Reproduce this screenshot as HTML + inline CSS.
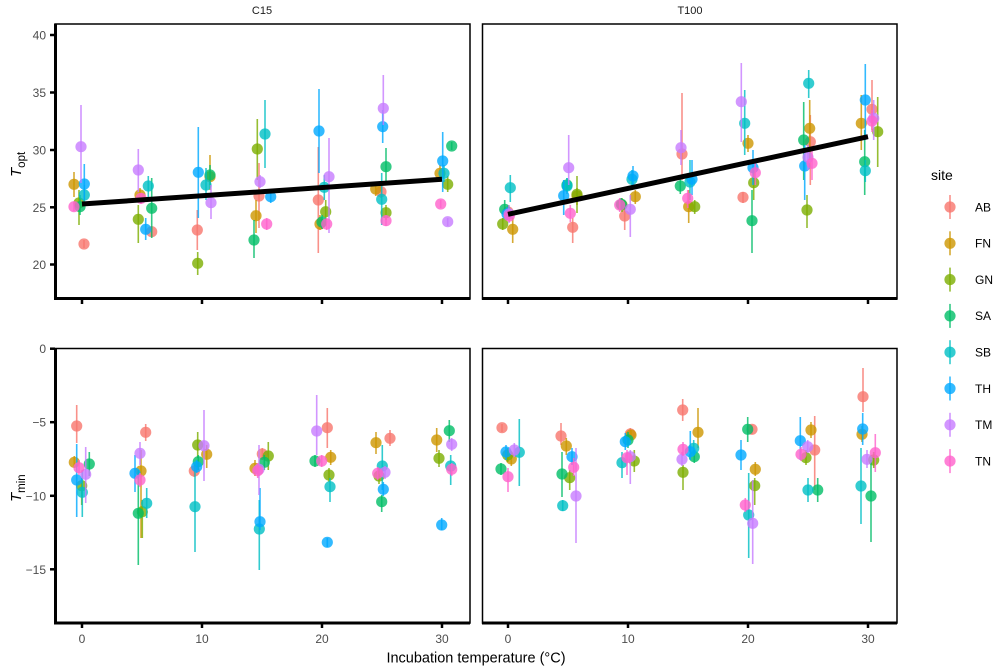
<!DOCTYPE html>
<html><head><meta charset="utf-8"><style>
html,body{margin:0;padding:0;background:#fff}
svg{display:block}
text{font-family:"Liberation Sans",Arial,sans-serif}
.AB{fill:#F8766D;stroke:#F8766D}.FN{fill:#CD9600;stroke:#CD9600}.GN{fill:#7CAE00;stroke:#7CAE00}.SA{fill:#00BE67;stroke:#00BE67}
.SB{fill:#00BFC4;stroke:#00BFC4}.TH{fill:#00A9FF;stroke:#00A9FF}.TM{fill:#C77CFF;stroke:#C77CFF}.TN{fill:#FF61CC;stroke:#FF61CC}
g.d line{stroke-width:1.6;opacity:0.8}
g.d circle{stroke:none;opacity:0.8}
.tk{font-size:12px;fill:#4d4d4d}
</style></head><body>
<svg width="1000" height="667" viewBox="0 0 1000 667" xmlns="http://www.w3.org/2000/svg">
<rect width="1000" height="667" fill="#fff"/>
<text x="262" y="14" font-size="11" text-anchor="middle" fill="#1a1a1a">C15</text>
<text x="690" y="14" font-size="11" text-anchor="middle" fill="#1a1a1a">T100</text>

<g id="pts"></g>
<!-- DATA -->
<g class="d">
<!-- AB -->
<g class="AB">
<line x1="84" x2="84" y1="240" y2="248"/><circle cx="84" cy="244" r="5.6"/>
<line x1="151.7" x2="151.7" y1="226" y2="236"/><circle cx="151.7" cy="231.7" r="5.6"/>
<line x1="197.3" x2="197.3" y1="210" y2="250"/><circle cx="197.3" cy="230" r="5.6"/>
<line x1="259" x2="259" y1="163" y2="228"/><circle cx="259" cy="196" r="5.6"/>
<line x1="318.3" x2="318.3" y1="147" y2="253"/><circle cx="318.3" cy="200" r="5.6"/>
<line x1="381" x2="381" y1="185" y2="198"/><circle cx="381" cy="191.7" r="5.6"/>
<line x1="508" x2="508" y1="205" y2="219"/><circle cx="508" cy="212" r="5.6"/>
<line x1="572.7" x2="572.7" y1="218" y2="243"/><circle cx="572.7" cy="227.3" r="5.6"/>
<line x1="624.7" x2="624.7" y1="208" y2="230"/><circle cx="624.7" cy="216" r="5.6"/>
<line x1="682" x2="682" y1="93" y2="180"/><circle cx="682" cy="154" r="5.6"/>
<line x1="743" x2="743" y1="192" y2="203"/><circle cx="743" cy="197.3" r="5.6"/>
<line x1="810.3" x2="810.3" y1="115" y2="185"/><circle cx="810.3" cy="141.7" r="5.6"/>
<line x1="872" x2="872" y1="80" y2="130"/><circle cx="872" cy="109.3" r="5.6"/>
<line x1="76.7" x2="76.7" y1="405" y2="443"/><circle cx="76.7" cy="426" r="5.6"/>
<line x1="145.7" x2="145.7" y1="424" y2="441"/><circle cx="145.7" cy="432.3" r="5.6"/>
<line x1="194.3" x2="194.3" y1="465" y2="477"/><circle cx="194.3" cy="471" r="5.6"/>
<line x1="262.3" x2="262.3" y1="448" y2="460"/><circle cx="262.3" cy="454" r="5.6"/>
<line x1="327.3" x2="327.3" y1="408" y2="448"/><circle cx="327.3" cy="427.7" r="5.6"/>
<line x1="390" x2="390" y1="430" y2="446"/><circle cx="390" cy="438.3" r="5.6"/>
<line x1="502" x2="502" y1="424" y2="432"/><circle cx="502" cy="427.7" r="5.6"/>
<line x1="561" x2="561" y1="423" y2="445"/><circle cx="561" cy="436" r="5.6"/>
<line x1="630.3" x2="630.3" y1="428" y2="440"/><circle cx="630.3" cy="434" r="5.6"/>
<line x1="682.7" x2="682.7" y1="399" y2="421"/><circle cx="682.7" cy="410" r="5.6"/>
<line x1="752" x2="752" y1="425" y2="434"/><circle cx="752" cy="429.3" r="5.6"/>
<line x1="814.7" x2="814.7" y1="416" y2="490"/><circle cx="814.7" cy="450" r="5.6"/>
<line x1="863" x2="863" y1="368" y2="412"/><circle cx="863" cy="396.7" r="5.6"/>
</g>
<!-- FN -->
<g class="FN">
<line x1="74" x2="74" y1="172" y2="197"/><circle cx="74" cy="184.3" r="5.6"/>
<line x1="140" x2="140" y1="188" y2="202"/><circle cx="140" cy="195" r="5.6"/>
<line x1="210" x2="210" y1="155" y2="190"/><circle cx="210" cy="176.7" r="5.6"/>
<line x1="256" x2="256" y1="200" y2="233"/><circle cx="256" cy="215.7" r="5.6"/>
<line x1="320" x2="320" y1="215" y2="230"/><circle cx="320" cy="224" r="5.6"/>
<line x1="375.7" x2="375.7" y1="182" y2="196"/><circle cx="375.7" cy="189" r="5.6"/>
<line x1="440" x2="440" y1="165" y2="182"/><circle cx="440" cy="173.3" r="5.6"/>
<line x1="512.7" x2="512.7" y1="218" y2="243"/><circle cx="512.7" cy="229.3" r="5.6"/>
<line x1="577" x2="577" y1="188" y2="205"/><circle cx="577" cy="196" r="5.6"/>
<line x1="635.3" x2="635.3" y1="190" y2="204"/><circle cx="635.3" cy="196.7" r="5.6"/>
<line x1="688.7" x2="688.7" y1="190" y2="223"/><circle cx="688.7" cy="206.7" r="5.6"/>
<line x1="748" x2="748" y1="135" y2="152"/><circle cx="748" cy="143.3" r="5.6"/>
<line x1="809.7" x2="809.7" y1="100" y2="160"/><circle cx="809.7" cy="128.3" r="5.6"/>
<line x1="861.3" x2="861.3" y1="95" y2="150"/><circle cx="861.3" cy="123.3" r="5.6"/>
<line x1="74.3" x2="74.3" y1="456" y2="468"/><circle cx="74.3" cy="462.3" r="5.6"/>
<line x1="141" x2="141" y1="450" y2="538"/><circle cx="141" cy="471" r="5.6"/>
<line x1="206.7" x2="206.7" y1="445" y2="468"/><circle cx="206.7" cy="454.3" r="5.6"/>
<line x1="255" x2="255" y1="460" y2="476"/><circle cx="255" cy="468.3" r="5.6"/>
<line x1="330.7" x2="330.7" y1="450" y2="465"/><circle cx="330.7" cy="457.3" r="5.6"/>
<line x1="376" x2="376" y1="432" y2="454"/><circle cx="376" cy="442.7" r="5.6"/>
<line x1="436.7" x2="436.7" y1="428" y2="452"/><circle cx="436.7" cy="440" r="5.6"/>
<line x1="511.3" x2="511.3" y1="452" y2="466"/><circle cx="511.3" cy="459" r="5.6"/>
<line x1="566.3" x2="566.3" y1="438" y2="455"/><circle cx="566.3" cy="446" r="5.6"/>
<line x1="631" x2="631" y1="430" y2="440"/><circle cx="631" cy="435" r="5.6"/>
<line x1="698" x2="698" y1="408" y2="448"/><circle cx="698" cy="432.3" r="5.6"/>
<line x1="755.3" x2="755.3" y1="462" y2="476"/><circle cx="755.3" cy="469.3" r="5.6"/>
<line x1="811" x2="811" y1="422" y2="438"/><circle cx="811" cy="430" r="5.6"/>
<line x1="862" x2="862" y1="426" y2="442"/><circle cx="862" cy="434.3" r="5.6"/>
</g>
<!-- GN -->
<g class="GN">
<line x1="79" x2="79" y1="190" y2="225"/><circle cx="79" cy="203" r="5.6"/>
<line x1="138.3" x2="138.3" y1="205" y2="243"/><circle cx="138.3" cy="219.3" r="5.6"/>
<line x1="197.7" x2="197.7" y1="252" y2="275"/><circle cx="197.7" cy="263.3" r="5.6"/>
<line x1="257.3" x2="257.3" y1="119" y2="180"/><circle cx="257.3" cy="149" r="5.6"/>
<line x1="325.7" x2="325.7" y1="200" y2="225"/><circle cx="325.7" cy="211.7" r="5.6"/>
<line x1="386" x2="386" y1="205" y2="220"/><circle cx="386" cy="212.7" r="5.6"/>
<line x1="447.7" x2="447.7" y1="176" y2="192"/><circle cx="447.7" cy="184.3" r="5.6"/>
<line x1="502.7" x2="502.7" y1="218" y2="230"/><circle cx="502.7" cy="224" r="5.6"/>
<line x1="577" x2="577" y1="176" y2="213"/><circle cx="577" cy="194.3" r="5.6"/>
<line x1="622" x2="622" y1="198" y2="212"/><circle cx="622" cy="205" r="5.6"/>
<line x1="694.7" x2="694.7" y1="200" y2="214"/><circle cx="694.7" cy="206.7" r="5.6"/>
<line x1="753.7" x2="753.7" y1="170" y2="200"/><circle cx="753.7" cy="182.7" r="5.6"/>
<line x1="807" x2="807" y1="195" y2="228"/><circle cx="807" cy="210" r="5.6"/>
<line x1="877.7" x2="877.7" y1="97" y2="167"/><circle cx="877.7" cy="131.7" r="5.6"/>
<line x1="81.7" x2="81.7" y1="478" y2="505"/><circle cx="81.7" cy="485.7" r="5.6"/>
<line x1="142.3" x2="142.3" y1="500" y2="538"/><circle cx="142.3" cy="511.7" r="5.6"/>
<line x1="197.7" x2="197.7" y1="432" y2="458"/><circle cx="197.7" cy="445" r="5.6"/>
<line x1="268.3" x2="268.3" y1="442" y2="470"/><circle cx="268.3" cy="456" r="5.6"/>
<line x1="329" x2="329" y1="468" y2="482"/><circle cx="329" cy="475" r="5.6"/>
<line x1="379" x2="379" y1="468" y2="484"/><circle cx="379" cy="476" r="5.6"/>
<line x1="439" x2="439" y1="450" y2="467"/><circle cx="439" cy="458.3" r="5.6"/>
<line x1="507.7" x2="507.7" y1="448" y2="462"/><circle cx="507.7" cy="455" r="5.6"/>
<line x1="569.7" x2="569.7" y1="470" y2="490"/><circle cx="569.7" cy="477.7" r="5.6"/>
<line x1="634.3" x2="634.3" y1="450" y2="472"/><circle cx="634.3" cy="461" r="5.6"/>
<line x1="683" x2="683" y1="465" y2="490"/><circle cx="683" cy="472.3" r="5.6"/>
<line x1="754.7" x2="754.7" y1="478" y2="505"/><circle cx="754.7" cy="485.7" r="5.6"/>
<line x1="806" x2="806" y1="450" y2="465"/><circle cx="806" cy="457.7" r="5.6"/>
<line x1="873.7" x2="873.7" y1="452" y2="468"/><circle cx="873.7" cy="460" r="5.6"/>
</g>
<!-- SA -->
<g class="SA">
<line x1="80" x2="80" y1="195" y2="215"/><circle cx="80" cy="206.7" r="5.6"/>
<line x1="151.7" x2="151.7" y1="178" y2="238"/><circle cx="151.7" cy="208.3" r="5.6"/>
<line x1="210" x2="210" y1="165" y2="185"/><circle cx="210" cy="175" r="5.6"/>
<line x1="254" x2="254" y1="220" y2="258"/><circle cx="254" cy="240" r="5.6"/>
<line x1="322" x2="322" y1="215" y2="229"/><circle cx="322" cy="222" r="5.6"/>
<line x1="386" x2="386" y1="148" y2="185"/><circle cx="386" cy="166.7" r="5.6"/>
<line x1="451.7" x2="451.7" y1="142" y2="150"/><circle cx="451.7" cy="146" r="5.6"/>
<line x1="504.7" x2="504.7" y1="200" y2="218"/><circle cx="504.7" cy="209.3" r="5.6"/>
<line x1="567" x2="567" y1="178" y2="192"/><circle cx="567" cy="185" r="5.6"/>
<line x1="621.3" x2="621.3" y1="198" y2="210"/><circle cx="621.3" cy="204.3" r="5.6"/>
<line x1="680.3" x2="680.3" y1="178" y2="194"/><circle cx="680.3" cy="186" r="5.6"/>
<line x1="752" x2="752" y1="190" y2="253"/><circle cx="752" cy="220.7" r="5.6"/>
<line x1="803.7" x2="803.7" y1="102" y2="180"/><circle cx="803.7" cy="140" r="5.6"/>
<line x1="864.7" x2="864.7" y1="130" y2="195"/><circle cx="864.7" cy="161.7" r="5.6"/>
<line x1="89.3" x2="89.3" y1="452" y2="476"/><circle cx="89.3" cy="464" r="5.6"/>
<line x1="138.3" x2="138.3" y1="470" y2="565"/><circle cx="138.3" cy="513.3" r="5.6"/>
<line x1="198.3" x2="198.3" y1="455" y2="470"/><circle cx="198.3" cy="461.7" r="5.6"/>
<line x1="264.3" x2="264.3" y1="455" y2="470"/><circle cx="264.3" cy="462.3" r="5.6"/>
<line x1="315" x2="315" y1="455" y2="467"/><circle cx="315" cy="461" r="5.6"/>
<line x1="381.7" x2="381.7" y1="495" y2="512"/><circle cx="381.7" cy="501.7" r="5.6"/>
<line x1="449.3" x2="449.3" y1="420" y2="442"/><circle cx="449.3" cy="430.7" r="5.6"/>
<line x1="501" x2="501" y1="463" y2="475"/><circle cx="501" cy="469" r="5.6"/>
<line x1="562" x2="562" y1="452" y2="497"/><circle cx="562" cy="474" r="5.6"/>
<line x1="628" x2="628" y1="432" y2="448"/><circle cx="628" cy="440" r="5.6"/>
<line x1="694.3" x2="694.3" y1="450" y2="463"/><circle cx="694.3" cy="456.7" r="5.6"/>
<line x1="747.7" x2="747.7" y1="417" y2="442"/><circle cx="747.7" cy="429.3" r="5.6"/>
<line x1="817.7" x2="817.7" y1="478" y2="502"/><circle cx="817.7" cy="490" r="5.6"/>
<line x1="871" x2="871" y1="460" y2="542"/><circle cx="871" cy="496" r="5.6"/>
</g>
<!-- SB -->
<g class="SB">
<line x1="84.3" x2="84.3" y1="185" y2="205"/><circle cx="84.3" cy="195" r="5.6"/>
<line x1="148.3" x2="148.3" y1="176" y2="200"/><circle cx="148.3" cy="186" r="5.6"/>
<line x1="206" x2="206" y1="168" y2="200"/><circle cx="206" cy="185" r="5.6"/>
<line x1="265" x2="265" y1="100" y2="168"/><circle cx="265" cy="134" r="5.6"/>
<line x1="324.3" x2="324.3" y1="175" y2="200"/><circle cx="324.3" cy="187.3" r="5.6"/>
<line x1="381.7" x2="381.7" y1="173" y2="225"/><circle cx="381.7" cy="199.3" r="5.6"/>
<line x1="444" x2="444" y1="165" y2="182"/><circle cx="444" cy="173.3" r="5.6"/>
<line x1="510.3" x2="510.3" y1="175" y2="202"/><circle cx="510.3" cy="187.7" r="5.6"/>
<line x1="567" x2="567" y1="178" y2="194"/><circle cx="567" cy="186" r="5.6"/>
<line x1="632" x2="632" y1="170" y2="190"/><circle cx="632" cy="179.3" r="5.6"/>
<line x1="690" x2="690" y1="160" y2="200"/><circle cx="690" cy="182" r="5.6"/>
<line x1="744.7" x2="744.7" y1="90" y2="155"/><circle cx="744.7" cy="123.3" r="5.6"/>
<line x1="808.7" x2="808.7" y1="70" y2="98"/><circle cx="808.7" cy="83.3" r="5.6"/>
<line x1="865.3" x2="865.3" y1="160" y2="182"/><circle cx="865.3" cy="170.7" r="5.6"/>
<line x1="82.3" x2="82.3" y1="470" y2="517"/><circle cx="82.3" cy="492.3" r="5.6"/>
<line x1="146.7" x2="146.7" y1="488" y2="518"/><circle cx="146.7" cy="503.3" r="5.6"/>
<line x1="195" x2="195" y1="465" y2="552"/><circle cx="195" cy="506.7" r="5.6"/>
<line x1="259.3" x2="259.3" y1="500" y2="570"/><circle cx="259.3" cy="529" r="5.6"/>
<line x1="330" x2="330" y1="478" y2="502"/><circle cx="330" cy="486.7" r="5.6"/>
<line x1="382.3" x2="382.3" y1="445" y2="490"/><circle cx="382.3" cy="466" r="5.6"/>
<line x1="450.7" x2="450.7" y1="455" y2="485"/><circle cx="450.7" cy="466" r="5.6"/>
<line x1="519.3" x2="519.3" y1="419" y2="486"/><circle cx="519.3" cy="452.3" r="5.6"/>
<line x1="562.7" x2="562.7" y1="500" y2="511"/><circle cx="562.7" cy="505.7" r="5.6"/>
<line x1="622" x2="622" y1="452" y2="478"/><circle cx="622" cy="462.7" r="5.6"/>
<line x1="693.7" x2="693.7" y1="440" y2="456"/><circle cx="693.7" cy="448.3" r="5.6"/>
<line x1="748.7" x2="748.7" y1="473" y2="558"/><circle cx="748.7" cy="515" r="5.6"/>
<line x1="808" x2="808" y1="478" y2="502"/><circle cx="808" cy="490" r="5.6"/>
<line x1="861" x2="861" y1="448" y2="524"/><circle cx="861" cy="486" r="5.6"/>
</g>
<!-- TH -->
<g class="TH">
<line x1="84.3" x2="84.3" y1="164" y2="200"/><circle cx="84.3" cy="184" r="5.6"/>
<line x1="145.7" x2="145.7" y1="218" y2="240"/><circle cx="145.7" cy="229.3" r="5.6"/>
<line x1="198.3" x2="198.3" y1="127" y2="218"/><circle cx="198.3" cy="172.3" r="5.6"/>
<line x1="270.7" x2="270.7" y1="190" y2="203"/><circle cx="270.7" cy="196.7" r="5.6"/>
<line x1="319" x2="319" y1="89" y2="173"/><circle cx="319" cy="131" r="5.6"/>
<line x1="382.7" x2="382.7" y1="110" y2="143"/><circle cx="382.7" cy="126.7" r="5.6"/>
<line x1="442.7" x2="442.7" y1="132" y2="192"/><circle cx="442.7" cy="161" r="5.6"/>
<line x1="507" x2="507" y1="207" y2="220"/><circle cx="507" cy="214" r="5.6"/>
<line x1="563.7" x2="563.7" y1="180" y2="215"/><circle cx="563.7" cy="195.7" r="5.6"/>
<line x1="633" x2="633" y1="166" y2="188"/><circle cx="633" cy="176" r="5.6"/>
<line x1="692" x2="692" y1="160" y2="195"/><circle cx="692" cy="179.3" r="5.6"/>
<line x1="753" x2="753" y1="150" y2="185"/><circle cx="753" cy="167.7" r="5.6"/>
<line x1="804.7" x2="804.7" y1="145" y2="200"/><circle cx="804.7" cy="166" r="5.6"/>
<line x1="865.3" x2="865.3" y1="64" y2="140"/><circle cx="865.3" cy="100" r="5.6"/>
<line x1="76.7" x2="76.7" y1="444" y2="517"/><circle cx="76.7" cy="480" r="5.6"/>
<line x1="135" x2="135" y1="455" y2="492"/><circle cx="135" cy="473.3" r="5.6"/>
<line x1="196.7" x2="196.7" y1="460" y2="473"/><circle cx="196.7" cy="466.7" r="5.6"/>
<line x1="260" x2="260" y1="488" y2="530"/><circle cx="260" cy="521.7" r="5.6"/>
<line x1="327.3" x2="327.3" y1="538" y2="547"/><circle cx="327.3" cy="542.3" r="5.6"/>
<line x1="383.3" x2="383.3" y1="482" y2="496"/><circle cx="383.3" cy="489.3" r="5.6"/>
<line x1="441.7" x2="441.7" y1="518" y2="530"/><circle cx="441.7" cy="525" r="5.6"/>
<line x1="506" x2="506" y1="445" y2="460"/><circle cx="506" cy="452" r="5.6"/>
<line x1="572" x2="572" y1="448" y2="465"/><circle cx="572" cy="456.7" r="5.6"/>
<line x1="625.3" x2="625.3" y1="433" y2="450"/><circle cx="625.3" cy="441.7" r="5.6"/>
<line x1="690.3" x2="690.3" y1="431" y2="460"/><circle cx="690.3" cy="451.7" r="5.6"/>
<line x1="741" x2="741" y1="440" y2="470"/><circle cx="741" cy="455" r="5.6"/>
<line x1="800.3" x2="800.3" y1="417" y2="460"/><circle cx="800.3" cy="440.7" r="5.6"/>
<line x1="862.7" x2="862.7" y1="413" y2="445"/><circle cx="862.7" cy="429" r="5.6"/>
</g>
<!-- TM -->
<g class="TM">
<line x1="81" x2="81" y1="105" y2="183"/><circle cx="81" cy="146.7" r="5.6"/>
<line x1="138.3" x2="138.3" y1="149" y2="192"/><circle cx="138.3" cy="170" r="5.6"/>
<line x1="211" x2="211" y1="185" y2="219"/><circle cx="211" cy="202.7" r="5.6"/>
<line x1="260" x2="260" y1="175" y2="188"/><circle cx="260" cy="181.7" r="5.6"/>
<line x1="329" x2="329" y1="138" y2="233"/><circle cx="329" cy="176.7" r="5.6"/>
<line x1="383.3" x2="383.3" y1="75" y2="125"/><circle cx="383.3" cy="108.3" r="5.6"/>
<line x1="447.7" x2="447.7" y1="218" y2="226"/><circle cx="447.7" cy="221.7" r="5.6"/>
<line x1="509" x2="509" y1="205" y2="223"/><circle cx="509" cy="214" r="5.6"/>
<line x1="568.7" x2="568.7" y1="135" y2="185"/><circle cx="568.7" cy="167.7" r="5.6"/>
<line x1="630.3" x2="630.3" y1="195" y2="237"/><circle cx="630.3" cy="209.3" r="5.6"/>
<line x1="681" x2="681" y1="130" y2="165"/><circle cx="681" cy="147.7" r="5.6"/>
<line x1="741.3" x2="741.3" y1="63" y2="142"/><circle cx="741.3" cy="101.7" r="5.6"/>
<line x1="808" x2="808" y1="145" y2="170"/><circle cx="808" cy="157.3" r="5.6"/>
<line x1="873.7" x2="873.7" y1="100" y2="140"/><circle cx="873.7" cy="118.3" r="5.6"/>
<line x1="85.7" x2="85.7" y1="447" y2="503"/><circle cx="85.7" cy="474.3" r="5.6"/>
<line x1="140" x2="140" y1="442" y2="465"/><circle cx="140" cy="453.3" r="5.6"/>
<line x1="204" x2="204" y1="410" y2="481"/><circle cx="204" cy="445.7" r="5.6"/>
<line x1="259" x2="259" y1="445" y2="495"/><circle cx="259" cy="469.3" r="5.6"/>
<line x1="316.7" x2="316.7" y1="395" y2="455"/><circle cx="316.7" cy="431" r="5.6"/>
<line x1="385" x2="385" y1="466" y2="479"/><circle cx="385" cy="472.3" r="5.6"/>
<line x1="451.7" x2="451.7" y1="438" y2="451"/><circle cx="451.7" cy="444.3" r="5.6"/>
<line x1="514.3" x2="514.3" y1="443" y2="457"/><circle cx="514.3" cy="450" r="5.6"/>
<line x1="576" x2="576" y1="448" y2="543"/><circle cx="576" cy="496" r="5.6"/>
<line x1="630.3" x2="630.3" y1="450" y2="484"/><circle cx="630.3" cy="456.7" r="5.6"/>
<line x1="682" x2="682" y1="452" y2="466"/><circle cx="682" cy="459.3" r="5.6"/>
<line x1="752.7" x2="752.7" y1="480" y2="564"/><circle cx="752.7" cy="523.3" r="5.6"/>
<line x1="807.7" x2="807.7" y1="440" y2="453"/><circle cx="807.7" cy="446.7" r="5.6"/>
<line x1="867" x2="867" y1="450" y2="468"/><circle cx="867" cy="459.3" r="5.6"/>
</g>
<!-- TN -->
<g class="TN">
<line x1="74" x2="74" y1="202" y2="211"/><circle cx="74" cy="206.7" r="5.6"/>
<line x1="141" x2="141" y1="193" y2="204"/><circle cx="141" cy="198.3" r="5.6"/>
<line x1="266.7" x2="266.7" y1="218" y2="230"/><circle cx="266.7" cy="224" r="5.6"/>
<line x1="326.7" x2="326.7" y1="218" y2="230"/><circle cx="326.7" cy="224" r="5.6"/>
<line x1="386" x2="386" y1="215" y2="226"/><circle cx="386" cy="220.7" r="5.6"/>
<line x1="440.7" x2="440.7" y1="200" y2="208"/><circle cx="440.7" cy="204" r="5.6"/>
<line x1="509.3" x2="509.3" y1="210" y2="222"/><circle cx="509.3" cy="216" r="5.6"/>
<line x1="570.3" x2="570.3" y1="205" y2="222"/><circle cx="570.3" cy="213.3" r="5.6"/>
<line x1="619.7" x2="619.7" y1="198" y2="212"/><circle cx="619.7" cy="205" r="5.6"/>
<line x1="687.7" x2="687.7" y1="190" y2="208"/><circle cx="687.7" cy="198.3" r="5.6"/>
<line x1="755.3" x2="755.3" y1="160" y2="185"/><circle cx="755.3" cy="172.7" r="5.6"/>
<line x1="812" x2="812" y1="150" y2="180"/><circle cx="812" cy="163.3" r="5.6"/>
<line x1="872" x2="872" y1="110" y2="132"/><circle cx="872" cy="121" r="5.6"/>
<line x1="79" x2="79" y1="460" y2="475"/><circle cx="79" cy="467.7" r="5.6"/>
<line x1="140" x2="140" y1="473" y2="487"/><circle cx="140" cy="480" r="5.6"/>
<line x1="257.7" x2="257.7" y1="463" y2="478"/><circle cx="257.7" cy="470.7" r="5.6"/>
<line x1="321.7" x2="321.7" y1="455" y2="467"/><circle cx="321.7" cy="461" r="5.6"/>
<line x1="377.7" x2="377.7" y1="467" y2="480"/><circle cx="377.7" cy="473.3" r="5.6"/>
<line x1="451.7" x2="451.7" y1="463" y2="476"/><circle cx="451.7" cy="469.3" r="5.6"/>
<line x1="508" x2="508" y1="468" y2="492"/><circle cx="508" cy="476.7" r="5.6"/>
<line x1="573.7" x2="573.7" y1="458" y2="476"/><circle cx="573.7" cy="467.3" r="5.6"/>
<line x1="627" x2="627" y1="450" y2="475"/><circle cx="627" cy="457.7" r="5.6"/>
<line x1="683" x2="683" y1="442" y2="456"/><circle cx="683" cy="449.3" r="5.6"/>
<line x1="745.3" x2="745.3" y1="498" y2="512"/><circle cx="745.3" cy="505" r="5.6"/>
<line x1="801" x2="801" y1="447" y2="461"/><circle cx="801" cy="454.3" r="5.6"/>
<line x1="875.3" x2="875.3" y1="434" y2="472"/><circle cx="875.3" cy="452.7" r="5.6"/>
</g>
</g>

<!-- regression lines -->
<line x1="82" y1="204" x2="442" y2="179.3" stroke="#000" stroke-width="5"/>
<line x1="508" y1="214.3" x2="868" y2="136.7" stroke="#000" stroke-width="5"/>

<!-- panel frames -->
<g fill="none" stroke="#000">
<rect x="55" y="24" width="415" height="275" stroke-width="1.5"/>
<rect x="482.5" y="24" width="414.5" height="275" stroke-width="1.5"/>
<rect x="55" y="348.5" width="415" height="274.5" stroke-width="1.5"/>
<rect x="482.5" y="348.5" width="414.5" height="274.5" stroke-width="1.5"/>
<!-- thick axes -->
<line x1="55.5" y1="24" x2="55.5" y2="300" stroke-width="3"/>
<line x1="54" y1="298.5" x2="470" y2="298.5" stroke-width="3"/>
<line x1="482" y1="298.5" x2="897" y2="298.5" stroke-width="3"/>
<line x1="55.5" y1="348" x2="55.5" y2="624.5" stroke-width="3"/>
<line x1="54" y1="623" x2="470" y2="623" stroke-width="3"/>
<line x1="482" y1="623" x2="897" y2="623" stroke-width="3"/>
</g>
<!-- y ticks -->
<g stroke="#000" stroke-width="2.5">
<line x1="50" x2="55" y1="35" y2="35"/><line x1="50" x2="55" y1="92.5" y2="92.5"/>
<line x1="50" x2="55" y1="150" y2="150"/><line x1="50" x2="55" y1="207.3" y2="207.3"/>
<line x1="50" x2="55" y1="264.5" y2="264.5"/>
<line x1="50" x2="55" y1="348.7" y2="348.7"/><line x1="50" x2="55" y1="422.2" y2="422.2"/>
<line x1="50" x2="55" y1="495.8" y2="495.8"/><line x1="50" x2="55" y1="569.3" y2="569.3"/>
<!-- x ticks -->
<line x1="82" x2="82" y1="299" y2="304"/><line x1="202" x2="202" y1="299" y2="304"/>
<line x1="322" x2="322" y1="299" y2="304"/><line x1="442" x2="442" y1="299" y2="304"/>
<line x1="508" x2="508" y1="299" y2="304"/><line x1="628" x2="628" y1="299" y2="304"/>
<line x1="748" x2="748" y1="299" y2="304"/><line x1="868" x2="868" y1="299" y2="304"/>
<line x1="82" x2="82" y1="623" y2="628"/><line x1="202" x2="202" y1="623" y2="628"/>
<line x1="322" x2="322" y1="623" y2="628"/><line x1="442" x2="442" y1="623" y2="628"/>
<line x1="508" x2="508" y1="623" y2="628"/><line x1="628" x2="628" y1="623" y2="628"/>
<line x1="748" x2="748" y1="623" y2="628"/><line x1="868" x2="868" y1="623" y2="628"/>
</g>
<!-- tick labels -->
<g class="tk" text-anchor="end">
<text x="46" y="39.5">40</text><text x="46" y="97">35</text><text x="46" y="154.5">30</text>
<text x="46" y="211.8">25</text><text x="46" y="269">20</text>
<text x="46" y="353.2">0</text><text x="46" y="426.7">−5</text><text x="46" y="500.3">−10</text><text x="46" y="573.8">−15</text>
</g>
<g class="tk" text-anchor="middle">
<text x="82" y="643">0</text><text x="202" y="643">10</text><text x="322" y="643">20</text><text x="442" y="643">30</text>
<text x="508" y="643">0</text><text x="628" y="643">10</text><text x="748" y="643">20</text><text x="868" y="643">30</text>
</g>
<text x="476" y="662.5" font-size="14.5" text-anchor="middle" fill="#000">Incubation temperature (°C)</text>
<!-- y titles -->
<text transform="translate(21,177) rotate(-90)" font-size="15" fill="#000"><tspan font-style="italic">T</tspan><tspan font-size="11.5" dy="4">opt</tspan></text>
<text transform="translate(21,502) rotate(-90)" font-size="15" fill="#000"><tspan font-style="italic">T</tspan><tspan font-size="11.5" dy="4">min</tspan></text>

<!-- legend -->
<text x="931" y="180" font-size="14" fill="#000">site</text>
<g class="d">
<g class="AB"><line x1="950" x2="950" y1="195" y2="219"/><circle cx="950" cy="207" r="5.6"/></g>
<g class="FN"><line x1="950" x2="950" y1="231.3" y2="255.3"/><circle cx="950" cy="243.3" r="5.6"/></g>
<g class="GN"><line x1="950" x2="950" y1="267.6" y2="291.6"/><circle cx="950" cy="279.6" r="5.6"/></g>
<g class="SA"><line x1="950" x2="950" y1="303.9" y2="327.9"/><circle cx="950" cy="315.9" r="5.6"/></g>
<g class="SB"><line x1="950" x2="950" y1="340.2" y2="364.2"/><circle cx="950" cy="352.2" r="5.6"/></g>
<g class="TH"><line x1="950" x2="950" y1="376.5" y2="400.5"/><circle cx="950" cy="388.5" r="5.6"/></g>
<g class="TM"><line x1="950" x2="950" y1="412.8" y2="436.8"/><circle cx="950" cy="424.8" r="5.6"/></g>
<g class="TN"><line x1="950" x2="950" y1="449.1" y2="473.1"/><circle cx="950" cy="461.1" r="5.6"/></g>
</g>
<g font-size="12" fill="#000">
<text x="975" y="211.3">AB</text><text x="975" y="247.6">FN</text><text x="975" y="283.9">GN</text><text x="975" y="320.2">SA</text>
<text x="975" y="356.5">SB</text><text x="975" y="392.8">TH</text><text x="975" y="429.1">TM</text><text x="975" y="465.4">TN</text>
</g>
</svg>
</body></html>
